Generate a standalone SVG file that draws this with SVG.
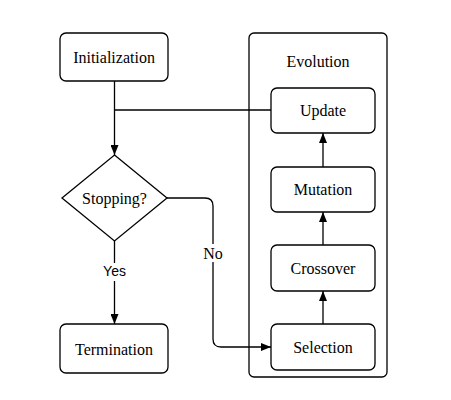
<svg xmlns="http://www.w3.org/2000/svg" width="451" height="400" viewBox="0 0 451 400">
<defs>
<marker id="arr" markerWidth="10" markerHeight="8" refX="10" refY="4" orient="auto" markerUnits="userSpaceOnUse">
<path d="M0,0 L10,4 L0,8 Z" fill="#000"/>
</marker>
<style>
.box{fill:#fff;stroke:#000;stroke-width:1.3}
.t{font-family:"Liberation Serif","Times New Roman",serif;font-size:16px;fill:#000;text-anchor:middle;dominant-baseline:central}
.s{font-family:"Liberation Sans",Arial,sans-serif;font-size:14px;fill:#000;text-anchor:middle;dominant-baseline:central}
.e{fill:none;stroke:#000;stroke-width:1.3}
</style>
</defs>
<rect width="451" height="400" fill="#fff"/>
<g id="evolution">
<rect class="box" x="249" y="33" width="138" height="344" rx="5"/>
<text class="t" x="318" y="61">Evolution</text>
</g>
<g id="connectors">
<path class="e" d="M114.5,81 V155" marker-end="url(#arr)"/>
<path class="e" d="M271,110 H114.5"/>
<path class="e" d="M114.5,241 V324" marker-end="url(#arr)"/>
<path class="e" d="M167,198 H205 Q213,198 213,206 V339 Q213,347 221,347 H271" marker-end="url(#arr)"/>
<path class="e" d="M323,324 V291" marker-end="url(#arr)"/>
<path class="e" d="M323,245 V212" marker-end="url(#arr)"/>
<path class="e" d="M323,167 V133" marker-end="url(#arr)"/>
<rect x="202" y="244" width="22" height="18" fill="#fff"/>
<text class="t" x="213" y="253">No</text>
<rect x="101" y="263" width="27" height="18" fill="#fff"/>
<text class="s" x="114.5" y="271">Yes</text>
</g>
<g id="initialization">
<rect class="box" x="60" y="33" width="108" height="48" rx="6"/>
<text class="t" x="114" y="57">Initialization</text>
</g>
<g id="stopping">
<path class="box" d="M114.5,155 L167,198 L114.5,241 L62,198 Z"/>
<text class="t" x="114.5" y="198">Stopping?</text>
</g>
<g id="termination">
<rect class="box" x="60" y="324" width="108" height="49" rx="6"/>
<text class="t" x="114" y="349">Termination</text>
</g>
<g id="update">
<rect class="box" x="271" y="88" width="104" height="45" rx="6"/>
<text class="t" x="323" y="110.5">Update</text>
</g>
<g id="mutation">
<rect class="box" x="271" y="167" width="104" height="45" rx="6"/>
<text class="t" x="323" y="189.5">Mutation</text>
</g>
<g id="crossover">
<rect class="box" x="271" y="245" width="104" height="46" rx="6"/>
<text class="t" x="323" y="268">Crossover</text>
</g>
<g id="selection">
<rect class="box" x="271" y="324" width="104" height="46" rx="6"/>
<text class="t" x="323" y="347">Selection</text>
</g>
</svg>
